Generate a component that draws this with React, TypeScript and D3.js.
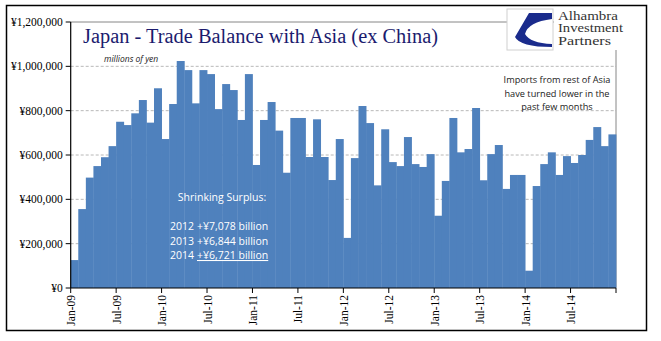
import React from "react";
import * as d3 from "d3";

const years = ["09", "10", "11", "12", "13", "14"];
const monthNames = ["Jan", "Feb", "Mar", "Apr", "May", "Jun", "Jul", "Aug", "Sep", "Oct", "Nov", "Dec"];
const months: string[] = years.flatMap((y) => monthNames.map((m) => `${m}-${y}`));

// millions of yen
const balance: number[] = [
  126000, 356000, 498000, 550000, 590000, 640000, 750000, 735000, 788000, 848000, 746000, 901000,
  672000, 830000, 1024000, 983000, 833000, 983000, 965000, 807000, 920000, 893000, 758000, 965000,
  555000, 758000, 839000, 710000, 520000, 767000, 767000, 591000, 761000, 591000, 487000, 672000,
  226000, 586000, 821000, 744000, 463000, 716000, 568000, 550000, 681000, 559000, 546000, 604000,
  326000, 483000, 767000, 612000, 627000, 812000, 486000, 604000, 645000, 447000, 510000, 510000,
  78000, 460000, 559000, 612000, 510000, 595000, 564000, 600000, 668000, 726000, 640000, 693000,
];

const yTicks = [0, 200000, 400000, 600000, 800000, 1000000, 1200000];
const xTickLabels = ["Jan-09", "Jul-09", "Jan-10", "Jul-10", "Jan-11", "Jul-11", "Jan-12", "Jul-12", "Jan-13", "Jul-13", "Jan-14", "Jul-14"];

const titleText = "Japan - Trade Balance with Asia (ex China)";
const unitText = "millions of yen";
const noteLines = ["Imports from rest of Asia", "have turned lower in the", "past few months"];
const surplusTitle = "Shrinking Surplus:";
const surplusYears = ["2012", "2013", "2014"];
const surplusValues = ["+¥7,078 billion", "+¥6,844 billion", "+¥6,721 billion"];
const logoLines = ["Alhambra", "Investment", "Partners"];
const logoWidths = [60, 65, 53];

export default function App() {
  const W = 661, H = 341;
  const left = 70.7, right = 616, top = 22, bottom = 288;
  const x = d3.scaleBand<string>().domain(months).range([left, right]).padding(0);
  const y = d3.scaleLinear().domain([0, 1200000]).range([bottom, top]);
  const fmt = (v: number) => "¥" + d3.format(",")(v);
  const serif = "'Liberation Serif', 'Times New Roman', serif";
  const sans = "'Open Sans', 'Liberation Sans', sans-serif";

  return (
    <svg width={W} height={H} style={{ position: "absolute", left: 0, top: 0, background: "#fff" }}>
      <rect x={0} y={0} width={W} height={H} fill="#fff" />
      {/* grid */}
      {yTicks.filter((t) => t > 0 && t < 1200000).map((t) => (
        <line key={t} x1={left} x2={right} y1={y(t)} y2={y(t)} stroke="#a6a6a6" strokeWidth={0.8} strokeDasharray="3,2" />
      ))}
      {/* plot border top/right */}
      <line x1={left} x2={right} y1={top} y2={top} stroke="#868686" strokeWidth={1} />
      <line x1={right} x2={right} y1={top} y2={bottom} stroke="#868686" strokeWidth={1} />
      {/* bars */}
      {months.map((m, i) => (
        <rect key={m} x={x(m)!} y={y(balance[i])} width={x.bandwidth() + 0.4} height={bottom - y(balance[i])} fill="#4f81bd" />
      ))}
      {/* y axis */}
      <line x1={left} x2={left} y1={top} y2={bottom} stroke="#000" strokeWidth={1.2} />
      {yTicks.map((t) => (
        <g key={t}>
          <line x1={left - 5} x2={left} y1={y(t)} y2={y(t)} stroke="#000" />
          <text x={left - 8} y={y(t)} dy="0.35em" textAnchor="end" fontFamily={serif} fontSize={11.5} fill="#000">
            {fmt(t)}
          </text>
        </g>
      ))}
      {/* x axis */}
      <line x1={left} x2={right} y1={bottom} y2={bottom} stroke="#000" strokeWidth={1.2} />
      {xTickLabels.map((lbl) => {
        const tx = x(lbl)!;
        return (
          <g key={lbl}>
            <line x1={tx} x2={tx} y1={bottom} y2={bottom + 5} stroke="#000" />
            <text transform={`translate(${tx + 0.5},${bottom + 7}) rotate(-90)`} dy="0.35em" textAnchor="end" fontFamily={serif} fontSize={11.5} fill="#000">
              {lbl}
            </text>
          </g>
        );
      })}
      <line x1={right} x2={right} y1={bottom} y2={bottom + 5} stroke="#000" />
      {/* title */}
      <text x={83} y={43} fontFamily={serif} fontSize={20.5} fill="#1b1b6e" textLength={355} lengthAdjust="spacingAndGlyphs">{titleText}</text>
      <text x={104} y={62} fontFamily={sans} fontStyle="italic" fontSize={8.5} fill="#222">{unitText}</text>
      {/* note */}
      {noteLines.map((l, i) => (
        <text key={l} x={557} y={83 + i * 13.5} textAnchor="middle" fontFamily={sans} fontSize={9.2} fill="#222">{l}</text>
      ))}
      {/* shrinking surplus */}
      <text x={222} y={201} textAnchor="middle" fontFamily={sans} fontSize={10.5} fill="#fff">{surplusTitle}</text>
      {surplusYears.map((yr, i) => (
        <g key={yr}>
          <text x={170} y={230 + i * 14.5} fontFamily={sans} fontSize={10.5} fill="#fff">{yr}</text>
          <text x={197} y={230 + i * 14.5} fontFamily={sans} fontSize={10.5} fill="#fff" textDecoration={i === 2 ? "underline" : undefined}>
            {surplusValues[i]}
          </text>
        </g>
      ))}
      {/* logo */}
      <rect x={507} y={9} width={46} height={41} fill="#fff" stroke="#d0d0d0" strokeWidth={1} />
      <path d="M552,13 L529,13 L515,37 Q520,47 552,47 L552,44 Q530,43 525,34 Q528,22 552,19 Z" fill="#1a2b8c" />
      <rect x={554} y={9} width={78} height={41} fill="#fff" />
      {logoLines.map((l, i) => (
        <text key={l} x={558} y={19.5 + i * 12.8} fontFamily={serif} fontSize={12} fill="#333" textLength={logoWidths[i]} lengthAdjust="spacingAndGlyphs">{l}</text>
      ))}
      {/* outer border */}
      <rect x={6.5} y={5.5} width={640} height={325} fill="none" stroke="#000" strokeWidth={1.5} />
    </svg>
  );
}
